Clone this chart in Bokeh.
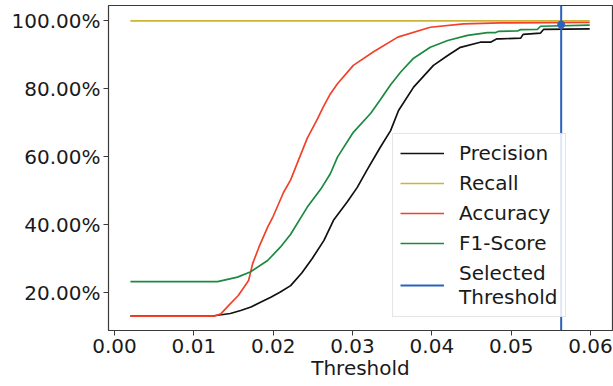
from bokeh.plotting import figure
from bokeh.models import (Range1d, FixedTicker, NumeralTickFormatter, Legend, LegendItem)
from bokeh.embed import file_html
from bokeh.resources import INLINE

# ---- data ----
prec_x = [0.0020, 0.0121, 0.0146, 0.0159, 0.0172, 0.0184, 0.0197, 0.0209, 0.0222, 0.0236,
          0.0249, 0.0264, 0.0276, 0.0293, 0.0306, 0.0318, 0.0335, 0.0348, 0.0358, 0.0377,
          0.0402, 0.0420, 0.0436, 0.0461, 0.0474, 0.0482, 0.0486, 0.0512, 0.0515, 0.0537,
          0.0541, 0.0599]
prec_y = [0.131, 0.131, 0.139, 0.148, 0.158, 0.172, 0.187, 0.202, 0.221, 0.258,
          0.300, 0.354, 0.413, 0.466, 0.510, 0.560, 0.628, 0.677, 0.736, 0.805,
          0.869, 0.898, 0.922, 0.937, 0.937, 0.947, 0.947, 0.949, 0.960, 0.964,
          0.975, 0.976]

recall_x = [0.0020, 0.0599]
recall_y = [1.000, 1.000]

acc_x = [0.0020, 0.0125, 0.0134, 0.0144, 0.0156, 0.0169, 0.0174, 0.0182, 0.0193, 0.0200,
         0.0213, 0.0222, 0.0231, 0.0243, 0.0256, 0.0263, 0.0272, 0.0281, 0.0301, 0.0326,
         0.0357, 0.0398, 0.0440, 0.0487, 0.0599]
acc_y = [0.131, 0.131, 0.138, 0.163, 0.192, 0.236, 0.285, 0.334, 0.393, 0.425,
         0.495, 0.532, 0.585, 0.655, 0.712, 0.746, 0.785, 0.815, 0.869, 0.908,
         0.952, 0.981, 0.991, 0.994, 0.995]

f1_x = [0.0020, 0.0130, 0.0155, 0.0171, 0.0193, 0.0209, 0.0222, 0.0243, 0.0260, 0.0272,
        0.0281, 0.0301, 0.0323, 0.0335, 0.0348, 0.0361, 0.0377, 0.0398, 0.0420, 0.0445,
        0.0470, 0.0480, 0.0484, 0.0508, 0.0512, 0.0533, 0.0537, 0.0599]
f1_y = [0.233, 0.233, 0.246, 0.261, 0.295, 0.334, 0.372, 0.452, 0.505, 0.550,
        0.599, 0.672, 0.728, 0.768, 0.812, 0.850, 0.890, 0.922, 0.942, 0.957,
        0.965, 0.965, 0.969, 0.970, 0.974, 0.975, 0.984, 0.987]

selected_threshold = 0.0563
selected_f1 = 0.989

x_ticks = [0.00, 0.01, 0.02, 0.03, 0.04, 0.05, 0.06]
y_ticks = [0.2, 0.4, 0.6, 0.8, 1.0]

# ---- figure ----
FONT = "DejaVu Sans"
TXT = "#1a1a1a"
AX = "#3a3a3a"

x0, x1 = -0.00076, 0.06277
y0, y1 = 0.089, 1.045

p = figure(width=613, height=386, output_backend="svg", toolbar_location=None,
           x_range=Range1d(x0, x1), y_range=Range1d(y0, y1),
           min_border_left=108, min_border_right=1, min_border_top=5, min_border_bottom=56)
p.grid.visible = False
p.outline_line_color = AX
p.outline_line_width = 1.2
p.background_fill_color = "white"
p.border_fill_color = "white"

p.xaxis.ticker = FixedTicker(ticks=x_ticks)
p.yaxis.ticker = FixedTicker(ticks=y_ticks)
p.xaxis.formatter = NumeralTickFormatter(format="0.00")
p.yaxis.formatter = NumeralTickFormatter(format="0.00%")
p.xaxis.axis_label = "Threshold"
for ax in (p.xaxis[0], p.yaxis[0]):
    ax.major_label_text_font = FONT
    ax.major_label_text_font_size = "20px"
    ax.major_label_text_color = TXT
    ax.axis_label_text_font = FONT
    ax.axis_label_text_font_size = "20px"
    ax.axis_label_text_font_style = "normal"
    ax.axis_label_text_color = TXT
    ax.axis_line_color = AX
    ax.major_tick_line_color = AX
    ax.major_tick_out = 5
    ax.major_tick_in = 0
    ax.minor_tick_line_color = None
    ax.major_label_standoff = 3
p.xaxis.axis_label_standoff = 0

c_prec = "#111111"
c_rec = "#c9b638"
c_acc = "#f2412b"
c_f1 = "#1b8a40"
c_sel = "#2b62c0"

r_prec = p.line(prec_x, prec_y, line_color=c_prec, line_width=1.7)
r_rec = p.line(recall_x, recall_y, line_color=c_rec, line_width=1.7)
r_acc = p.line(acc_x, acc_y, line_color=c_acc, line_width=1.7)
r_f1 = p.line(f1_x, f1_y, line_color=c_f1, line_width=1.7)
r_sel = p.line([selected_threshold, selected_threshold], [y0, y1], line_color=c_sel, line_width=2)
p.scatter([selected_threshold], [selected_f1], size=7, color=c_sel)

legend = Legend(items=[
    LegendItem(label="Precision", renderers=[r_prec]),
    LegendItem(label="Recall", renderers=[r_rec]),
    LegendItem(label="Accuracy", renderers=[r_acc]),
    LegendItem(label="F1-Score", renderers=[r_f1]),
    LegendItem(label="Selected\nThreshold", renderers=[r_sel]),
], location=(284, 13))
legend.label_text_font = FONT
legend.label_text_font_size = "20px"
legend.label_text_color = TXT
legend.glyph_width = 44
legend.glyph_height = 24
legend.label_height = 24
legend.spacing = 6
legend.padding = 7
legend.margin = 0
legend.label_standoff = 15
legend.border_line_color = "#cccccc"
legend.border_line_width = 1
legend.background_fill_alpha = 0.85
p.add_layout(legend)

open("out.html", "w").write(file_html(p, INLINE))
